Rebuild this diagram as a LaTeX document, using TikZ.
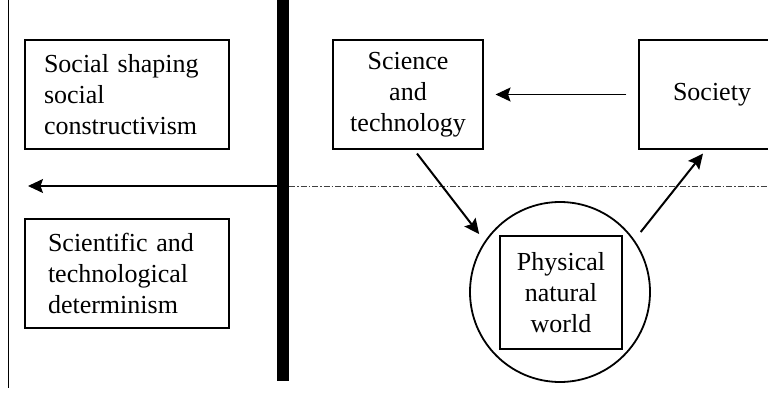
\documentclass[tikz,border=0pt]{standalone}
\usepackage{fontspec}
\setmainfont{Liberation Serif}
\usetikzlibrary{arrows.meta}

\begin{document}
\begin{tikzpicture}[x=1pt, y=1pt, >={Stealth[length=15pt,width=14pt,inset=2.5pt]},
  font=\fontsize{26}{31}\selectfont,
  box/.style={draw, line width=1.1pt, minimum height=109pt, inner sep=0pt},
  flow/.style={->, line width=1.3pt},
  dashline/.style={line width=0.8pt, black!75, dash pattern=on 6pt off 2pt on 1.5pt off 2pt}]
  \useasboundingbox (0,0) rectangle (768,394);
  \clip (0,0) rectangle (768,394);
  \draw[line width=1pt] (8,394) -- (8,6);
  \node[fill, minimum width=12pt, minimum height=381pt, inner sep=0pt] (bar) at (283,203.5) {};
  \node[box, align=left, text width=166pt, inner xsep=19pt] (shaping) at (127,299.5) {Social shaping\\social\\constructivism};
  \node[box, align=left, text width=158pt, inner xsep=23pt] (determinism) at (127,120.5) {Scientific and\\technological\\determinism};
  \node[box, align=center, minimum width=150pt] (science) at (408,299.5) {Science\\and\\technology};
  \node[box, minimum width=146pt] (society) at (712,299.5) {Society};
  \node[draw, circle, line width=1.8pt, minimum size=180pt] (earth) at (560,102) {};
  \node[box, align=center, minimum width=122pt, minimum height=113pt] (world) at (561,101.5) {Physical\\natural\\world};
  \coordinate (west) at (28,208);
  \coordinate (east) at (768,208);
  \draw[flow] (bar.west |- west) -- (west);
  \draw[dashline] (bar.east |- east) -- (east);
  \draw[flow, shorten <=12pt, shorten >=12pt] (society) -- (science);
  \draw[flow, line width=2pt, shorten >=9pt] ([shift={(9,-4)}]science.south) -- (earth.146);
  \draw[flow, line width=2pt, shorten <=10pt] (earth.35) -- ([shift={(-9,-4)}]society.south);
\end{tikzpicture}
\end{document}
